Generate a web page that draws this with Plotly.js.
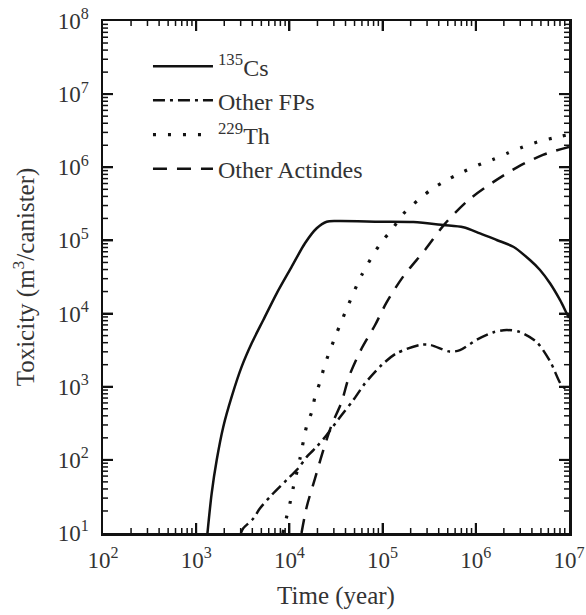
<!DOCTYPE html>
<html>
<head>
<meta charset="utf-8">
<script src="https://cdn.plot.ly/plotly-3.0.1.min.js"></script>
<style>html,body{margin:0;padding:0;background:#fff;}#chart{width:586px;height:615px;}</style>
</head>
<body>
<div id="chart"></div>
<script>
// Time (year) and toxicity (m^3/canister)
var csTime = [1321, 1466, 1660, 1954, 2404, 3076, 3936, 5248, 7311, 10590, 14690, 19630, 25120, 33500, 93760, 213800, 446700, 734500, 1109000, 1675000, 2523000, 3811000, 4887000, 6252000, 7998000, 9441000, 10000000];
var csTox  = [10, 34.9, 99.5, 284, 731, 1879, 3926, 8166, 18920, 43750, 91410, 146600, 180300, 184000, 180300, 178000, 162600, 151400, 125000, 101400, 82000, 53950, 39450, 25940, 15350, 10090, 8710];

var fpTime = [3020, 3199, 4102, 4842, 6457, 9354, 12470, 15350, 19630, 25120, 36390, 48530, 64700, 97700, 141000, 251000, 324000, 525000, 676000, 1020000, 1550000, 2140000, 2950000, 4470000, 6310000, 8320000, 10000000];
var fpTox  = [10, 11.6, 15.8, 21.8, 33.1, 53.1, 76.7, 110, 151, 219, 410, 658, 1110, 1980, 2860, 3720, 3720, 3020, 3160, 4370, 5550, 5960, 5620, 4120, 2190, 1050, 890];

var thTime = [8510, 9350, 10140, 11020, 13000, 14100, 15350, 17400, 18840, 21380, 24000, 31400, 42900, 59700, 93800, 126000, 166000, 240000, 344000, 507000, 735000, 1060000, 1550000, 2240000, 3240000, 4680000, 6760000, 10000000];
var thTox  = [10, 16.7, 25.5, 42.2, 105, 178, 293, 457, 731, 1175, 1995, 5010, 13100, 33700, 89000, 141000, 229000, 355000, 513000, 685000, 871000, 1070000, 1290000, 1580000, 1910000, 2240000, 2510000, 2800000];

var acTime = [13490, 15350, 18840, 23120, 28440, 36390, 43650, 59700, 82800, 110000, 166000, 285000, 468000, 832000, 1550000, 2860000, 5250000, 10000000];
var acTox  = [10, 22.9, 56, 136, 300, 624, 1380, 3350, 6920, 14100, 32000, 74100, 170000, 355000, 631000, 1020000, 1480000, 1900000];

var seriesNames = ['<sup>135</sup>Cs', 'Other FPs', '<sup>229</sup>Th', 'Other Actindes'];

var xTickVals = [1e2, 1e3, 1e4, 1e5, 1e6, 1e7];
var xTickText = ['10<sup>2</sup>', '10<sup>3</sup>', '10<sup>4</sup>', '10<sup>5</sup>', '10<sup>6</sup>', '10<sup>7</sup>'];
var yTickVals = [1e1, 1e2, 1e3, 1e4, 1e5, 1e6, 1e7, 1e8];
var yTickText = ['10<sup>1</sup>', '10<sup>2</sup>', '10<sup>3</sup>', '10<sup>4</sup>', '10<sup>5</sup>', '10<sup>6</sup>', '10<sup>7</sup>', '10<sup>8</sup>'];

var xRange = [2, 7];   // log10 of 1e2 .. 1e7
var yRange = [1, 8];   // log10 of 1e1 .. 1e8

function minorVals(decades) {
  var out = [];
  decades.forEach(function (d) { for (var k = 2; k <= 9; k++) out.push(k * d); });
  return out;
}

var fontFam = '"Liberation Serif", "Times New Roman", serif';
var ink = '#111';
var txt = '#333';

var W = 586, H = 615, ML = 103, MR = 17, MT = 21, MB = 82;
var plotW = W - ML - MR, plotH = H - MT - MB;

var traces = [
  {x: csTime, y: csTox, name: seriesNames[0], mode: 'lines', line: {color: ink, width: 2.5, dash: 'solid', shape: 'spline', smoothing: 0.8}},
  {x: fpTime, y: fpTox, name: seriesNames[1], mode: 'lines', line: {color: ink, width: 2.5, dash: '12px,5px,3px,5px', shape: 'spline', smoothing: 0.8}},
  {x: thTime, y: thTox, name: seriesNames[2], mode: 'lines', line: {color: ink, width: 3.2, dash: '3px,12px', shape: 'spline', smoothing: 0.8}},
  {x: acTime, y: acTox, name: seriesNames[3], mode: 'lines', line: {color: ink, width: 2.5, dash: '14px,10px', shape: 'spline', smoothing: 0.8}}
];

// inside tick marks on all four sides of the frame (paper-referenced)
function xFrac(v) { return (Math.log10(v) - xRange[0]) / (xRange[1] - xRange[0]); }
function yFrac(v) { return (Math.log10(v) - yRange[0]) / (yRange[1] - yRange[0]); }
function xTickShapes(vals, lenPx, width) {
  var f = lenPx / plotH, out = [];
  vals.forEach(function (v) {
    var p = xFrac(v);
    out.push({type: 'line', layer: 'above', xref: 'paper', yref: 'paper', x0: p, x1: p, y0: 0, y1: f, line: {color: ink, width: width}});
    out.push({type: 'line', layer: 'above', xref: 'paper', yref: 'paper', x0: p, x1: p, y0: 1, y1: 1 - f, line: {color: ink, width: width}});
  });
  return out;
}
function yTickShapes(vals, lenPx, width) {
  var f = lenPx / plotW, out = [];
  vals.forEach(function (v) {
    var p = yFrac(v);
    out.push({type: 'line', layer: 'above', xref: 'paper', yref: 'paper', y0: p, y1: p, x0: 0, x1: f, line: {color: ink, width: width}});
    out.push({type: 'line', layer: 'above', xref: 'paper', yref: 'paper', y0: p, y1: p, x0: 1, x1: 1 - f, line: {color: ink, width: width}});
  });
  return out;
}

var shapes = []
  .concat(xTickShapes(xTickVals.slice(1, -1), 10, 2))
  .concat(xTickShapes(minorVals([1e2, 1e3, 1e4, 1e5, 1e6]), 5, 1.5))
  .concat(yTickShapes(yTickVals.slice(1, -1), 10, 2))
  .concat(yTickShapes(minorVals([1e1, 1e2, 1e3, 1e4, 1e5, 1e6, 1e7]), 5, 1.5));

function axis(range, tv, tt, title, standoff, labelStandoff) {
  return {
    type: 'log',
    range: range,
    tickmode: 'array',
    tickvals: tv,
    ticktext: tt,
    showgrid: false,
    zeroline: false,
    showline: true,
    linecolor: ink,
    linewidth: 2.5,
    mirror: 'allticks',
    ticks: 'inside',
    ticklen: 10,
    tickwidth: 2,
    tickcolor: ink,
    ticklabelstandoff: labelStandoff,
    tickfont: {family: fontFam, size: 23, color: txt},
    title: {text: title, font: {family: fontFam, size: 25, color: txt}, standoff: standoff}
  };
}

var layout = {
  width: W,
  height: H,
  margin: {l: ML, r: MR, t: MT, b: MB},
  paper_bgcolor: '#fff',
  plot_bgcolor: '#fff',
  font: {family: fontFam, color: txt},
  showlegend: true,
  legend: {
    x: 0.0965, y: 0.955, xanchor: 'left', yanchor: 'top',
    bgcolor: 'rgba(0,0,0,0)',
    font: {family: fontFam, size: 24, color: txt},
    itemwidth: 60,
    tracegroupgap: 0
  },
  xaxis: axis(xRange, xTickVals, xTickText, 'Time (year)', 15, 5),
  yaxis: axis(yRange, yTickVals, yTickText, 'Toxicity (m<sup>3</sup>/canister)', 16, 7),
  shapes: shapes
};

Plotly.newPlot('chart', traces, layout, {staticPlot: true, displayModeBar: false});
</script>
</body>
</html>
